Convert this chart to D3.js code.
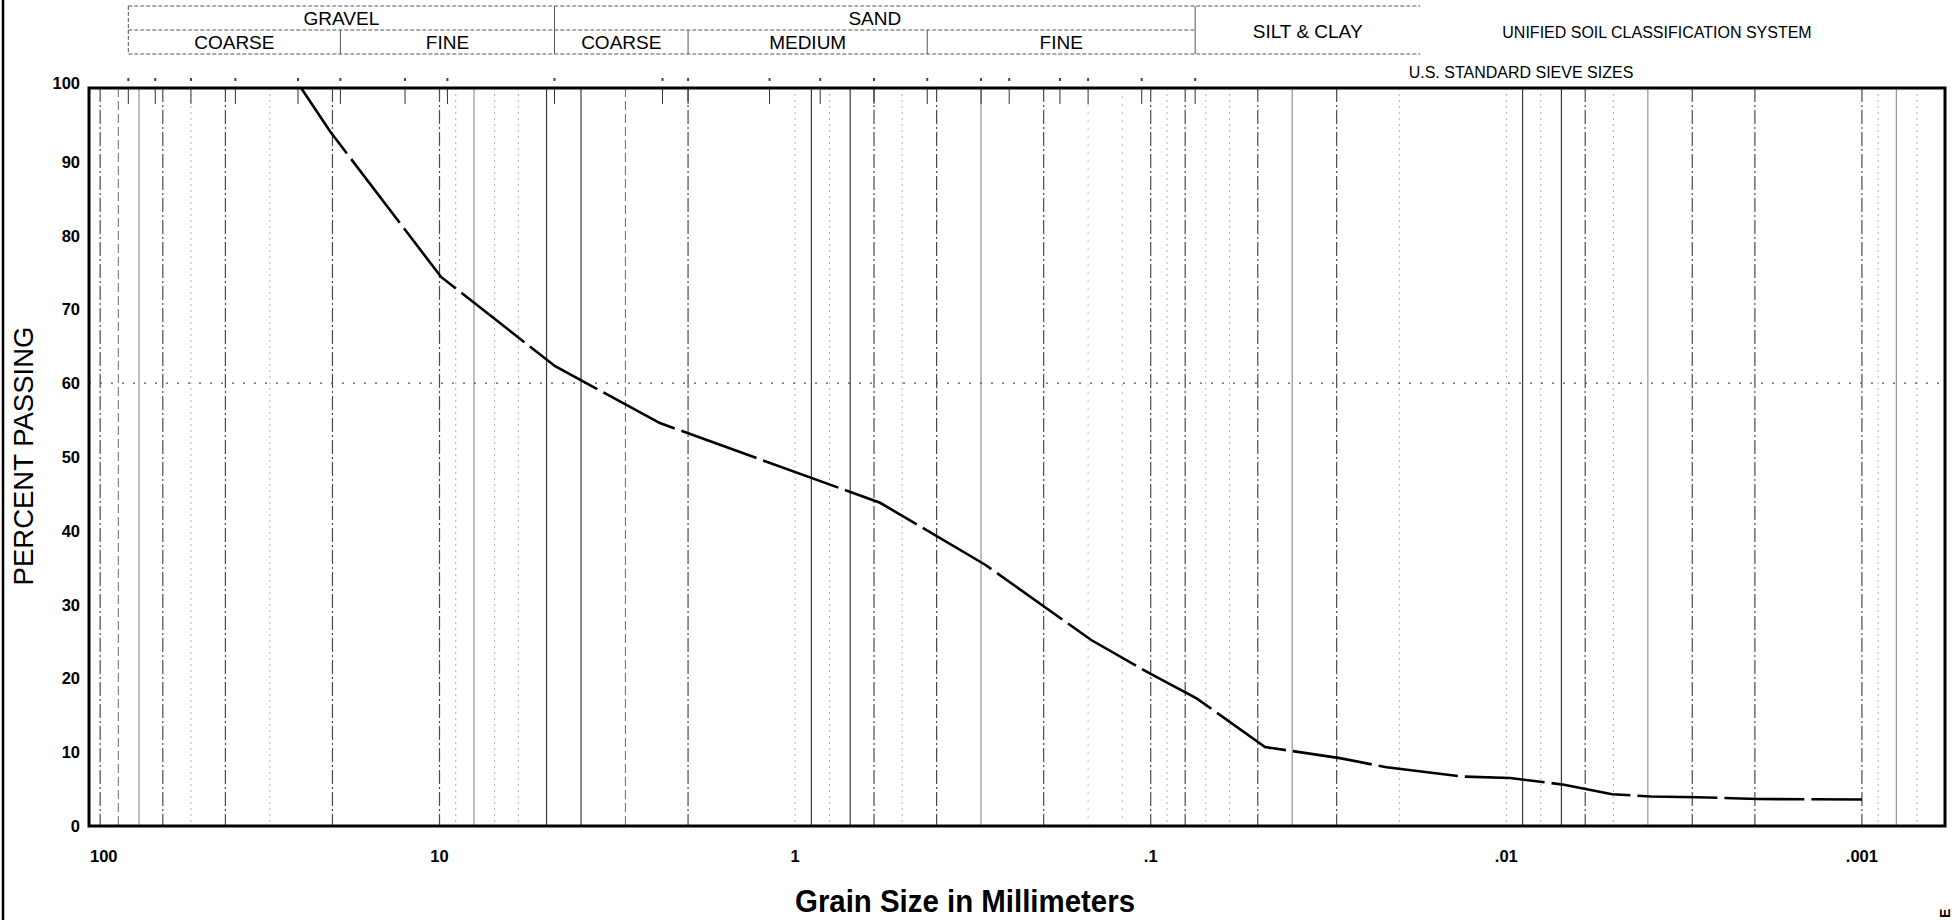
<!DOCTYPE html>
<html><head><meta charset="utf-8">
<script src="https://cdn.jsdelivr.net/npm/d3@7"></script>
<style>
html,body{margin:0;padding:0;background:#fff;}
svg{display:block;font-family:"Liberation Sans",Arial,sans-serif;}
</style></head>
<body>
<svg id="chart" width="1956" height="920"></svg>
<script>
// ---------------- DATA ----------------
// Grain size distribution curve (diameter mm, percent passing)
const grainSize = [24.5, 20.3, 9.9, 4.73, 2.40, 0.577, 0.292, 0.147, 0.100, 0.0743, 0.0477, 0.0294, 0.0217, 0.01332, 0.00976, 0.00688, 0.00504, 0.00392, 0.00291, 0.00197, 0.00100];
const percentPassing = [100, 94.1, 74.4, 62.3, 54.6, 43.8, 35.4, 25.2, 20.6, 17.3, 10.7, 9.2, 7.95, 6.7, 6.5, 5.6, 4.3, 4.0, 3.9, 3.66, 3.6];

// Log grid lines (mm), grouped by the drawn line type
const gridSolidDark = [5, 4, 0.9, 0.7, 0.009, 0.007];
const gridSolidGray = [70, 8, 0.3, 0.04, 0.004, 0.0008];
const gridDashDot = [90, 60, 40, 20, 10, 2, 0.6, 0.4, 0.2, 0.1, 0.08, 0.05, 0.03, 0.006, 0.003, 0.002, 0.001];
const gridDashed = [80, 3];
const gridDotted = [50, 30, 9, 7, 6, 1, 0.8, 0.5, 0.09, 0.07, 0.06, 0.02, 0.01, 0.008, 0.005, 0.0009, 0.0007];
const gridExtra = [0.15, 0.12];

// U.S. standard sieve sizes (mm) marked along the top
const sieveSizes = [75, 63, 50, 37.5, 25, 19, 12.5, 9.5, 4.75, 2.36, 2.0, 1.18, 0.85, 0.6, 0.425, 0.3, 0.25, 0.18, 0.15, 0.106, 0.075];

// Axis ticks
const yTicks = [0, 10, 20, 30, 40, 50, 60, 70, 80, 90, 100];
const xTickValues = [10, 1, 0.1, 0.01, 0.001];
const xTickLabels = ["10", "1", ".1", ".01", ".001"];
const xFirstLabel = "100";
const gridPercent = [60];

// Unified Soil Classification bands
const mainClasses = ["GRAVEL", "SAND", "SILT & CLAY"];
const mainBounds = [75, 4.75, 0.075];
const subClasses = ["COARSE", "FINE", "COARSE", "MEDIUM", "FINE"];
const subBounds = [75, 19, 4.75, 2.0, 0.425, 0.075];

// ---------------- CHART ----------------
const svg = d3.select("#chart");
const L = 89, R = 1945, T = 88, B = 826;
const x = d3.scaleLog().domain([96.75, 0.000584]).range([L, R]);
const y = d3.scaleLinear().domain([0, 100]).range([B, T]);

// page border on left
svg.append("line").attr("x1", 3).attr("x2", 3).attr("y1", 0).attr("y2", 920)
  .attr("stroke", "#000").attr("stroke-width", 2.5);

const grid = svg.append("g");
function vlines(vals, color, width, dash) {
  grid.selectAll(null).data(vals).enter().append("line")
    .attr("x1", d => x(d)).attr("x2", d => x(d))
    .attr("y1", T).attr("y2", B)
    .attr("stroke", color).attr("stroke-width", width)
    .attr("stroke-dasharray", dash);
}
vlines(gridSolidDark, "#3a3a3a", 1.2, null);
vlines(gridSolidGray, "#9a9a9a", 1.3, null);
vlines(gridDashDot, "#4a4a4a", 1.2, "14,3,2,3");
vlines(gridDashed, "#777", 1.1, "9,4");
vlines(gridDotted, "#b0b0b0", 1, "2,4");
vlines(gridExtra, "#c8c8c8", 1, "2,6");

// horizontal dotted grid
grid.selectAll(null).data(gridPercent).enter().append("line")
  .attr("x1", L).attr("x2", R).attr("y1", d => y(d)).attr("y2", d => y(d))
  .attr("stroke", "#555").attr("stroke-width", 1.3).attr("stroke-dasharray", "2,9");

// sieve marks along top
const sv = svg.append("g");
sv.selectAll(null).data(sieveSizes).enter().append("line")
  .attr("x1", d => x(d)).attr("x2", d => x(d))
  .attr("y1", T).attr("y2", T + 16)
  .attr("stroke", "#333").attr("stroke-width", 1);
sv.selectAll(null).data(sieveSizes).enter().append("rect")
  .attr("x", d => x(d) - 1).attr("y", 78).attr("width", 2).attr("height", 3)
  .attr("fill", "#444");

// curve
const pts = grainSize.map((d, i) => [d, percentPassing[i]]);
svg.append("path").datum(pts)
  .attr("d", d3.line().x(d => x(d[0])).y(d => y(d[1])))
  .attr("fill", "none").attr("stroke", "#000").attr("stroke-width", 2.6)
  .attr("stroke-dasharray", "80,7");

// frame
svg.append("rect").attr("x", L).attr("y", T).attr("width", R - L).attr("height", B - T)
  .attr("fill", "none").attr("stroke", "#000").attr("stroke-width", 3);

// y labels
svg.append("g").selectAll(null).data(yTicks).enter().append("text")
  .attr("x", 80).attr("y", d => y(d) - (d === 100 ? 5 : 0))
  .attr("text-anchor", "end").attr("dominant-baseline", "central")
  .attr("font-size", 16.5).attr("font-weight", "bold").text(d => d);

// x labels
svg.append("g").selectAll(null).data(xTickValues).enter().append("text")
  .attr("x", d => x(d)).attr("y", 856)
  .attr("text-anchor", "middle").attr("dominant-baseline", "central")
  .attr("font-size", 16.5).attr("font-weight", "bold").text((d, i) => xTickLabels[i]);
svg.append("text").attr("x", L + 1).attr("y", 856)
  .attr("text-anchor", "start").attr("dominant-baseline", "central")
  .attr("font-size", 16.5).attr("font-weight", "bold").text(xFirstLabel);

// axis titles
svg.append("text").attr("transform", "translate(33,456) rotate(-90)")
  .attr("text-anchor", "middle").attr("font-size", 27.5).text("PERCENT PASSING");
svg.append("text").attr("x", 965).attr("y", 912)
  .attr("text-anchor", "middle").attr("font-size", 31).attr("font-weight", "bold")
  .attr("textLength", 340).attr("lengthAdjust", "spacingAndGlyphs")
  .text("Grain Size in Millimeters");

// small rotated page mark at bottom right
svg.append("text").attr("transform", "translate(1950,918) rotate(-90)")
  .attr("font-size", 14).attr("font-weight", "bold").text("E");

// classification header
const H0 = 6, H1 = 30, H2 = 54;
const hdr = svg.append("g").attr("stroke", "#555").attr("stroke-width", 1);
const gx0 = x(mainBounds[0]), gx1 = x(mainBounds[2]);
const siltRight = gx1 + 225;
hdr.append("line").attr("x1", gx0).attr("x2", siltRight).attr("y1", H0).attr("y2", H0).attr("stroke-dasharray", "4,2");
hdr.append("line").attr("x1", gx0).attr("x2", gx1).attr("y1", H1).attr("y2", H1).attr("stroke-dasharray", "4,2");
hdr.append("line").attr("x1", gx0).attr("x2", siltRight).attr("y1", H2).attr("y2", H2).attr("stroke-dasharray", "4,2");
hdr.append("line").attr("x1", gx0).attr("x2", gx0).attr("y1", H0).attr("y2", H2).attr("stroke-dasharray", "4,2");
hdr.selectAll(null).data(mainBounds.slice(1)).enter().append("line")
  .attr("x1", d => x(d)).attr("x2", d => x(d)).attr("y1", H0).attr("y2", H2);
hdr.selectAll(null).data(subBounds.slice(1, 5).filter(d => d !== 4.75)).enter().append("line")
  .attr("x1", d => x(d)).attr("x2", d => x(d)).attr("y1", H1).attr("y2", H2);

const txt = svg.append("g").attr("font-size", 19).attr("text-anchor", "middle").attr("dominant-baseline", "central");
txt.selectAll(null).data(mainClasses.slice(0, 2)).enter().append("text")
  .attr("x", (d, i) => (x(mainBounds[i]) + x(mainBounds[i + 1])) / 2).attr("y", 18).text(d => d);
txt.append("text").attr("x", (x(mainBounds[2]) + siltRight) / 2).attr("y", 31).text(mainClasses[2]);
txt.selectAll(null).data(subClasses).enter().append("text")
  .attr("x", (d, i) => (x(subBounds[i]) + x(subBounds[i + 1])) / 2).attr("y", 42).text(d => d);
svg.append("text").attr("x", 1657).attr("y", 32).attr("text-anchor", "middle").attr("dominant-baseline", "central")
  .attr("font-size", 16).text("UNIFIED SOIL CLASSIFICATION SYSTEM");
svg.append("text").attr("x", 1521).attr("y", 72).attr("text-anchor", "middle").attr("dominant-baseline", "central")
  .attr("font-size", 16).text("U.S. STANDARD SIEVE SIZES");
</script>
</body></html>
